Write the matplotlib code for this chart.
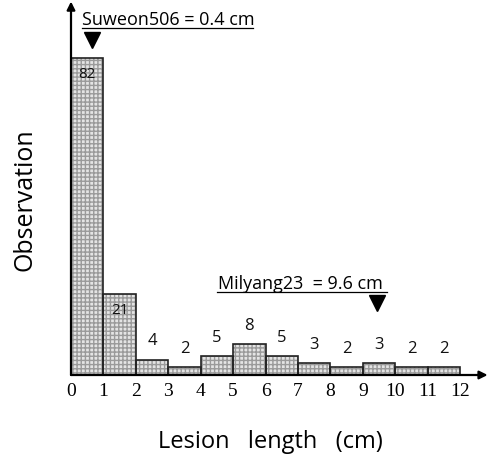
import matplotlib
matplotlib.use("Agg")
import matplotlib.pyplot as plt
from matplotlib.lines import Line2D

bin_left = [0, 1, 2, 3, 4, 5, 6, 7, 8, 9, 10, 11]
counts = [82, 21, 4, 2, 5, 8, 5, 3, 2, 3, 2, 2]
tick_vals = list(range(0, 13))
tick_labels = [str(v) for v in tick_vals]
suweon_val = 0.4
milyang_val = 9.6
suweon_text = "Suweon506 = 0.4 cm"
milyang_text = "Milyang23  = 9.6 cm"

fig = plt.figure(figsize=(4.87, 4.63), dpi=100)
ax = fig.add_axes([71/487, 88/463, 415/487, 370/463])
ax.set_xlim(0, 12.8)
ax.set_ylim(0, 95.6)

# hatched fill then outline
ax.bar(bin_left, counts, width=1.0, align='edge', facecolor='#e4e4e4',
       edgecolor='#9a9a9a', hatch='++++', linewidth=0)
ax.bar(bin_left, counts, width=1.0, align='edge', facecolor='none',
       edgecolor='#222222', linewidth=1.2)

sans = ['Open Sans', 'DejaVu Sans']
for x, c in zip(bin_left, counts):
    if c > 10:
        ax.annotate(str(c), (x + 0.5, c), xytext=(0, -12), textcoords='offset points',
                    ha='center', va='center', fontsize=11, family=sans, color='#111')
    else:
        ax.annotate(str(c), (x + 0.5, c), xytext=(0, 13), textcoords='offset points',
                    ha='center', va='center', fontsize=12, family=sans, color='#111')

for s in ['top', 'right', 'left', 'bottom']:
    ax.spines[s].set_visible(False)

# axes with arrows
ax.annotate('', xy=(12.85, 0), xytext=(0, 0), xycoords='data',
            arrowprops=dict(arrowstyle='-|>', color='black', lw=1.6,
                            mutation_scale=12, shrinkA=0, shrinkB=0),
            annotation_clip=False)
ax.annotate('', xy=(0, 96.5), xytext=(0, 0), xycoords='data',
            arrowprops=dict(arrowstyle='-|>', color='black', lw=1.6,
                            mutation_scale=12, shrinkA=0, shrinkB=0),
            annotation_clip=False)

ax.set_xticks(tick_vals)
ax.set_xticklabels(tick_labels, family=['Liberation Serif'], fontsize=14)
ax.set_yticks([])
ax.tick_params(axis='x', length=0, pad=6)

ax.set_xlabel('Lesion   length   (cm)', family=sans, fontsize=17)
ax.xaxis.set_label_coords(0.48, -0.15)
ax.set_ylabel('Observation', family=sans, fontsize=18)
ax.yaxis.set_label_coords(-0.08, 0.475)

# markers
ax.plot([suweon_val + 0.25], [86.6], marker='v', color='black', markersize=12, clip_on=False)
ax.text(0.34, 90.4, suweon_text, family=sans, fontsize=13, ha='left', va='baseline')
ax.add_line(Line2D([0.34, 5.62], [89.7, 89.7], color='black', lw=0.9, clip_on=False))

ax.plot([milyang_val - 0.15], [18.6], marker='v', color='black', markersize=12, clip_on=False)
ax.text(4.53, 22.2, milyang_text, family=sans, fontsize=13, ha='left', va='baseline')
ax.add_line(Line2D([4.5, 9.75], [21.4, 21.4], color='black', lw=0.9, clip_on=False))

fig.savefig('out.png', dpi=100)
